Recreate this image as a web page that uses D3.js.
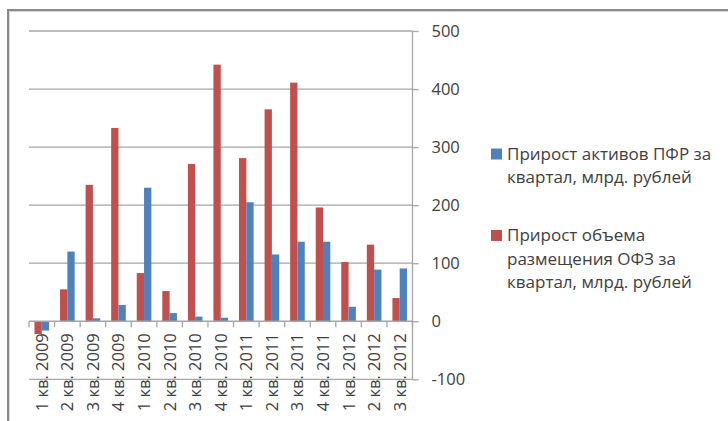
<!DOCTYPE html>
<html>
<head>
<meta charset="utf-8">
<script src="https://cdn.jsdelivr.net/npm/d3@7"></script>
<style>
  html, body { margin: 0; padding: 0; background: #fff; }
  svg { display: block; }
  text { font-family: "Open Sans", "Liberation Sans", sans-serif; fill: #404040; }
</style>
</head>
<body>
<svg id="chart" width="728" height="421"></svg>
<script>
// Quarters, 2009–2012
const quarters = [
  "1 кв. 2009", "2 кв. 2009", "3 кв. 2009", "4 кв. 2009",
  "1 кв. 2010", "2 кв. 2010", "3 кв. 2010", "4 кв. 2010",
  "1 кв. 2011", "2 кв. 2011", "3 кв. 2011", "4 кв. 2011",
  "1 кв. 2012", "2 кв. 2012", "3 кв. 2012"
];
// Quarterly growth of OFZ placement volume, bn RUB
const ofzGrowth = [-22, 55, 235, 333, 83, 52, 271, 442, 281, 365, 411, 196, 102, 132, 40];
// Quarterly growth of Pension Fund assets, bn RUB
const pfrGrowth = [-16, 120, 5, 28, 230, 14, 8, 6, 205, 115, 137, 137, 25, 89, 91];
const seriesNames = [
  "Прирост объема размещения ОФЗ за квартал, млрд. рублей",
  "Прирост активов ПФР за квартал, млрд. рублей"
];
const seriesColors = ["#C0504D", "#4F81BD"];
const yTicks = [-100, 0, 100, 200, 300, 400, 500];
const yTickLabels = ["-100", "0", "100", "200", "300", "400", "500"];

const svg = d3.select("#chart");

const plot = { left: 29, right: 412.5, top: 31, bottom: 379.3 };

const x = d3.scaleBand().domain(quarters).range([plot.left, plot.right]).padding(0);
const barW = x.bandwidth() / 3.5;
const xs = d3.scaleBand().domain([0, 1]).range([0, 2 * barW]).padding(0);
const y = d3.scaleLinear().domain([-100, 500]).range([plot.bottom, plot.top]);

// chart frame
svg.append("path")
  .attr("d", "M8,421 V10 H728")
  .attr("fill", "none")
  .attr("stroke", "#8a8a8a")
  .attr("stroke-width", 2);
svg.append("path")
  .attr("d", "M9.5,421 V11.5 H728")
  .attr("fill", "none")
  .attr("stroke", "#d8d8d8")
  .attr("stroke-width", 1);

// horizontal gridlines
svg.append("g").selectAll("line")
  .data(yTicks.filter(d => d !== 0))
  .join("line")
  .attr("x1", plot.left).attr("x2", plot.right)
  .attr("y1", d => y(d)).attr("y2", d => y(d))
  .attr("stroke", "#a6a6a6")
  .attr("stroke-width", 1.3);

// right value axis
const yAxis = d3.axisRight(y)
  .tickValues(yTicks)
  .tickSize(6)
  .tickPadding(13)
  .tickFormat((d, i) => yTickLabels[i]);
const gy = svg.append("g").attr("transform", `translate(${plot.right},0)`).call(yAxis);
gy.select(".domain").attr("stroke", "#a6a6a6").attr("stroke-width", 1.3).attr("d", `M0,${plot.top}V${plot.bottom}`);
gy.selectAll(".tick line").attr("stroke", "#a6a6a6").attr("stroke-width", 1.3);
gy.selectAll(".tick text")
  .attr("font-size", 16.5)
  .attr("font-family", "'Open Sans', sans-serif")
  .attr("fill", "#404040");

// bars
const series = [ofzGrowth, pfrGrowth];
const gBars = svg.append("g");
series.forEach((vals, si) => {
  gBars.append("g").selectAll("rect")
    .data(vals.map((v, i) => ({ q: quarters[i], v })))
    .join("rect")
    .attr("x", d => x(d.q) + (x.bandwidth() - 2 * barW) / 2 + xs(si))
    .attr("width", xs.bandwidth())
    .attr("y", d => y(Math.max(0, d.v)))
    .attr("height", d => Math.abs(y(d.v) - y(0)))
    .attr("fill", seriesColors[si]);
});

// category axis at zero
const y0 = y(0);
svg.append("line")
  .attr("x1", plot.left).attr("x2", plot.right)
  .attr("y1", y0).attr("y2", y0)
  .attr("stroke", "#a6a6a6").attr("stroke-width", 1.3);
svg.append("g").selectAll("line")
  .data(d3.range(quarters.length + 1))
  .join("line")
  .attr("x1", i => plot.left + i * x.step())
  .attr("x2", i => plot.left + i * x.step())
  .attr("y1", y0).attr("y2", y0 + 6)
  .attr("stroke", "#a6a6a6").attr("stroke-width", 1.3);

// rotated category labels
svg.append("g").selectAll("text")
  .data(quarters)
  .join("text")
  .attr("transform", d => `translate(${x(d) + x.bandwidth() / 2},${y0 + 12}) rotate(-90)`)
  .attr("text-anchor", "end")
  .attr("dy", "0.36em")
  .attr("font-size", 16.5)
  .text(d => d);

// legend
const legend = [
  { color: seriesColors[1], lines: ["Прирост активов ПФР за", "квартал, млрд. рублей"], top: 159.5 },
  { color: seriesColors[0], lines: ["Прирост объема", "размещения ОФЗ за", "квартал, млрд. рублей"], top: 241 }
];
const gLeg = svg.append("g");
legend.forEach(item => {
  gLeg.append("rect")
    .attr("x", 491).attr("y", item.top - 11)
    .attr("width", 11).attr("height", 11)
    .attr("fill", item.color);
  const t = gLeg.append("text")
    .attr("x", 507).attr("y", item.top)
    .attr("font-size", 17);
  item.lines.forEach((ln, k) => {
    t.append("tspan").attr("x", 507).attr("y", item.top + k * 23.5).text(ln);
  });
});
</script>
</body>
</html>
